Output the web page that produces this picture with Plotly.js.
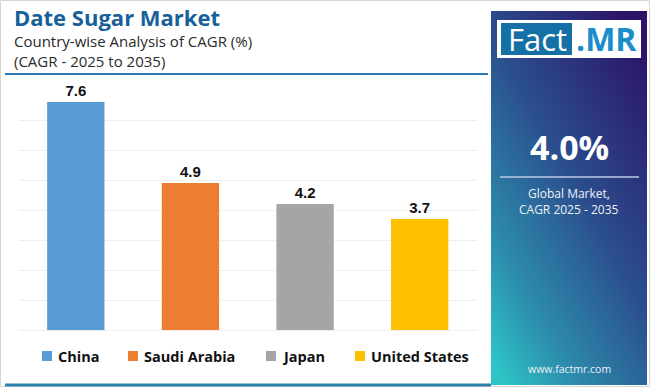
<!DOCTYPE html>
<html>
<head>
<meta charset="utf-8">
<script src="https://cdn.plot.ly/plotly-3.0.1.min.js"></script>
<style>
html,body{margin:0;padding:0;background:#fff;}
#chart{width:650px;height:387px;}
</style>
</head>
<body>
<div id="chart"></div>
<script>
// ---- data ----
const categories = ["China", "Saudi Arabia", "Japan", "United States"];
const cagrValues = [7.6, 4.9, 4.2, 3.7];
const barColors = ["#5b9bd5", "#ed7d31", "#a5a5a5", "#ffc000"];
const yTicks = [0, 1, 2, 3, 4, 5, 6, 7, 8];
const globalCagr = "4.0%";
const titleText = "Date Sugar Market";
const subtitle1 = "Country-wise Analysis of CAGR (%)";
const subtitle2 = "(CAGR - 2025 to 2035)";
const panelLine1 = "Global Market,";
const panelLine2 = "CAGR 2025 - 2035";
const siteText = "www.factmr.com";

// ---- layout helpers (pixel -> paper) ----
const W = 650, H = 387;
const px = x => x / W;
const py = y => 1 - y / H;

const gradSvg = '<svg xmlns="http://www.w3.org/2000/svg" width="156" height="374" preserveAspectRatio="none">' +
  '<defs><linearGradient id="g" x1="0.85" y1="0" x2="0.1" y2="1">' +
  '<stop offset="0" stop-color="#2c1468"/>' +
  '<stop offset="0.45" stop-color="#2b4f8e"/>' +
  '<stop offset="0.8" stop-color="#2c8fae"/>' +
  '<stop offset="1" stop-color="#2ec3c6"/>' +
  '</linearGradient></defs><rect width="156" height="374" fill="url(#g)"/></svg>';
const gradUri = "data:image/svg+xml;base64," + btoa(gradSvg);

const trace = {
  type: "bar",
  x: categories,
  y: cagrValues,
  marker: { color: barColors },
  width: 0.5,
  text: cagrValues.map(v => v.toFixed(1)),
  textposition: "outside",
  textfont: { family: "Liberation Sans, Arial, sans-serif", size: 15, color: "#111", weight: "bold" },
  cliponaxis: false,
  hoverinfo: "skip",
  showlegend: false
};

const shapes = [
  // outer border
  { type: "rect", xref: "paper", yref: "paper", x0: px(0.5), x1: px(649.5), y0: py(0.5), y1: py(386.5),
    line: { color: "#d6d6d6", width: 1 }, fillcolor: "rgba(0,0,0,0)", layer: "below" },
  // separator under title
  { type: "line", xref: "paper", yref: "paper", x0: px(5), x1: px(488), y0: py(74), y1: py(74),
    line: { color: "#2a78b4", width: 2 } },
  // bottom line
  { type: "line", xref: "paper", yref: "paper", x0: px(5), x1: px(491), y0: py(385), y1: py(385),
    line: { color: "#2d80ad", width: 3 } },
  // logo white box
  { type: "rect", xref: "paper", yref: "paper", x0: px(497), x1: px(641), y0: py(20), y1: py(58),
    fillcolor: "#ffffff", line: { width: 0 } },
  // logo "Fact" box
  { type: "rect", xref: "paper", yref: "paper", x0: px(501), x1: px(572), y0: py(23), y1: py(55),
    fillcolor: "#1570a6", line: { width: 0 } },
  // panel divider
  { type: "line", xref: "paper", yref: "paper", x0: px(500), x1: px(639), y0: py(177), y1: py(177),
    line: { color: "rgba(190,200,230,0.75)", width: 2 } }
];

const annotations = [
  { text: "<b>" + titleText + "</b>", x: px(12), y: py(17), xanchor: "left", yanchor: "middle",
    font: { family: "'Open Sans', sans-serif", size: 22, color: "#17609a", weight: 800 } },
  { text: subtitle1, x: px(12), y: py(41), xanchor: "left", yanchor: "middle",
    font: { family: "'Open Sans', sans-serif", size: 15, color: "#2a2a2a" } },
  { text: subtitle2, x: px(12), y: py(61), xanchor: "left", yanchor: "middle",
    font: { family: "'Open Sans', sans-serif", size: 15, color: "#2a2a2a" } },
  { text: "Fact", x: px(537), y: py(39), xanchor: "center", yanchor: "middle",
    font: { family: "'Open Sans', sans-serif", size: 31, color: "#ffffff" } },
  { text: "<b>.MR</b>", x: px(606), y: py(39), xanchor: "center", yanchor: "middle",
    font: { family: "'Open Sans', sans-serif", size: 32, color: "#1b8ccc" } },
  { text: "<b>" + globalCagr + "</b>", x: px(569), y: py(147), xanchor: "center", yanchor: "middle",
    font: { family: "'Open Sans', sans-serif", size: 34, color: "#ffffff" } },
  { text: panelLine1, x: px(569), y: py(193), xanchor: "center", yanchor: "middle",
    font: { family: "'Open Sans', sans-serif", size: 12, color: "#eef0f6" } },
  { text: panelLine2, x: px(569), y: py(209), xanchor: "center", yanchor: "middle",
    font: { family: "'Open Sans', sans-serif", size: 12, color: "#eef0f6" } },
  { text: siteText, x: px(569), y: py(369), xanchor: "center", yanchor: "middle",
    font: { family: "'Open Sans', sans-serif", size: 10.5, color: "#eef0f6" } }
];

// custom legend built from categories/colors
const legendX = [42, 128, 266, 355];
categories.forEach((c, i) => {
  shapes.push({ type: "rect", xref: "paper", yref: "paper",
    x0: px(legendX[i]), x1: px(legendX[i] + 10), y0: py(351), y1: py(361),
    fillcolor: barColors[i], line: { width: 0 } });
  annotations.push({ text: "<b>" + c + "</b>", x: px(legendX[i] + 14), y: py(356),
    xanchor: "left", yanchor: "middle",
    font: { family: "'Open Sans', sans-serif", size: 14.5, color: "#111" } });
});
annotations.forEach(a => { a.xref = "paper"; a.yref = "paper"; a.showarrow = false; });

const layout = {
  width: W, height: H,
  margin: { l: 0, r: 0, t: 0, b: 0 },
  paper_bgcolor: "#ffffff",
  plot_bgcolor: "rgba(0,0,0,0)",
  showlegend: false,
  xaxis: { domain: [px(18.5), px(477)], showticklabels: false, ticks: "", showgrid: false,
    zeroline: false, showline: false, fixedrange: true },
  yaxis: { domain: [py(330), py(90)], range: [0, 8], tickvals: yTicks, showticklabels: false,
    ticks: "", showgrid: true, gridcolor: "#efefef", gridwidth: 1, zeroline: true,
    zerolinecolor: "#efefef", zerolinewidth: 1, showline: false, fixedrange: true },
  images: [{ source: gradUri, xref: "paper", yref: "paper", x: px(491), y: py(11),
    sizex: px(156), sizey: 374 / H, sizing: "stretch", xanchor: "left", yanchor: "top", layer: "below" }],
  shapes: shapes,
  annotations: annotations
};

Plotly.newPlot("chart", [trace], layout, { displayModeBar: false, staticPlot: true });
</script>
</body>
</html>
